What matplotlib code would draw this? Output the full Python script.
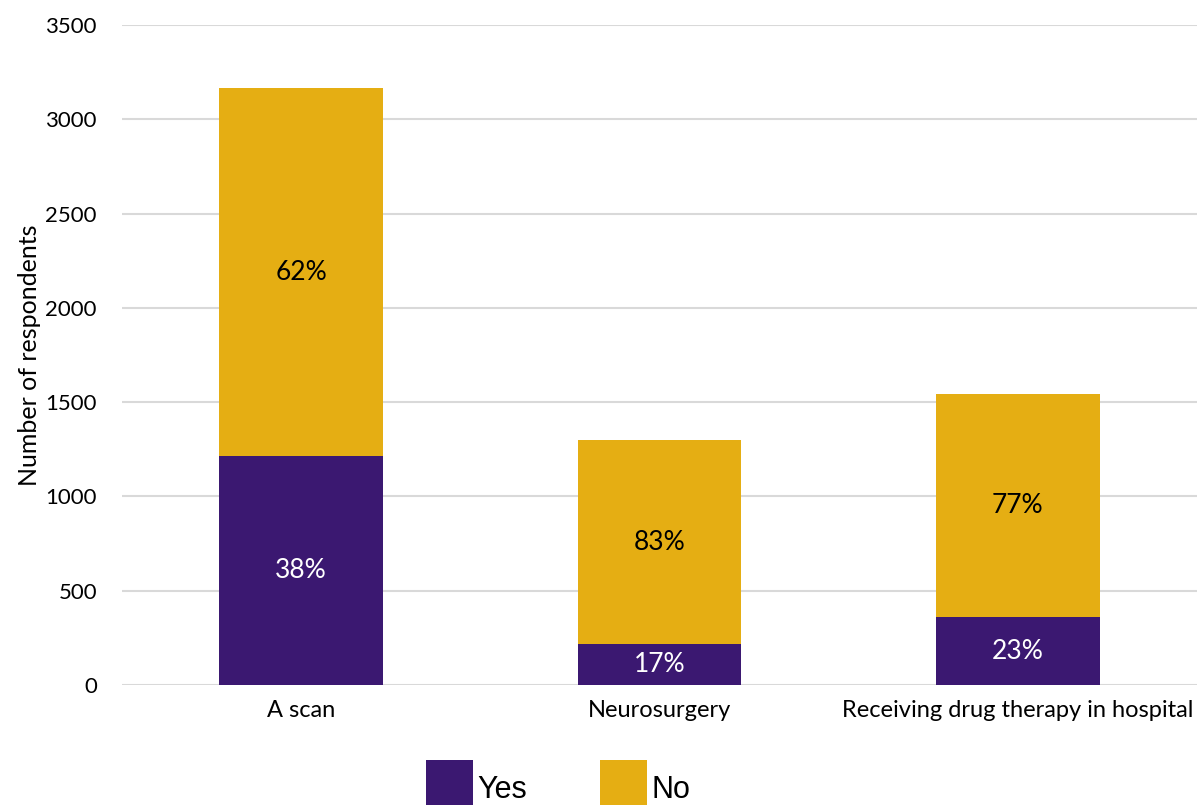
import numpy as np
import matplotlib.pyplot as plt

categories = ['A scan', 'Neurosurgery', 'Receiving drug therapy in hospital']
yes_counts = [1214, 217, 360]
no_counts = [1952, 1082, 1185]
series_names = ['Yes', 'No']

purple = '#3B1871'
gold = '#E5AE13'

plt.rcParams['font.family'] = ['Lato', 'DejaVu Sans']

fig = plt.figure(figsize=(11.97, 8.05), dpi=100)
ax = fig.add_axes([0.1019, 0.149, 0.8981, 0.820])

x = np.arange(len(categories))
yes = np.array(yes_counts)
no = np.array(no_counts)
total = yes + no

ax.bar(x, yes, width=0.457, color=purple, label=series_names[0], zorder=3)
ax.bar(x, no, width=0.457, bottom=yes, color=gold, label=series_names[1], zorder=3)

# percentage of each bar's total, written in the middle of each segment
for i in range(len(x)):
    ax.text(x[i], yes[i] / 2, '%d%%' % round(100 * yes[i] / total[i]),
            ha='center', va='center', color='white', fontsize=19, zorder=4)
    ax.text(x[i], yes[i] + no[i] / 2, '%d%%' % round(100 * no[i] / total[i]),
            ha='center', va='center', color='black', fontsize=19, zorder=4)

ax.set_xlim(-0.5, 2.5)
ax.set_ylim(0, 3500)
ax.set_yticks(np.arange(0, 3501, 500))
ax.set_xticks(x)
ax.set_xticklabels(categories)
ax.tick_params(axis='y', length=0, pad=18, labelsize=16)
ax.tick_params(axis='x', length=0, pad=11, labelsize=17)
ax.yaxis.grid(True, color='#D9D9D9', linewidth=1.5, zorder=0)
for s in ax.spines.values():
    s.set_visible(False)
ax.set_ylabel('Number of respondents', fontsize=18, labelpad=3)

fig.legend(loc='upper left', bbox_to_anchor=(426 / 1197, 1 - 760 / 805), ncol=2,
           frameon=False, borderpad=0, borderaxespad=0,
           prop={'family': 'Liberation Sans', 'size': 22},
           handlelength=1.54, handleheight=2.5, handletextpad=0.13,
           columnspacing=2.4)

fig.savefig('out.png', dpi=100)
